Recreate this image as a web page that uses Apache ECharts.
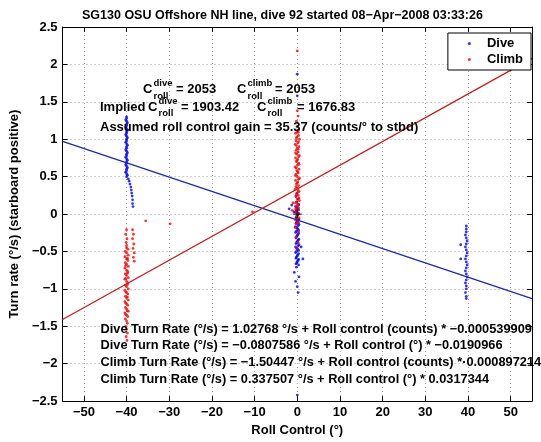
<!DOCTYPE html>
<html><head><meta charset="utf-8">
<script src="https://cdn.jsdelivr.net/npm/echarts@6/dist/echarts.min.js"></script>
<style>html,body{margin:0;padding:0;background:#fff}#c{width:541px;height:442px}</style>
</head><body><div id="c"></div><script>
const titleText = 'SG130 OSU Offshore NH line, dive 92 started 08\u2212Apr\u22122008 03:33:26';
const xName = 'Roll Control (\u00b0)';
const yName = 'Turn rate (\u00b0/s) (starboard positive)';
const xTicks = [-50, -40, -30, -20, -10, 0, 10, 20, 30, 40, 50];
const legendNames = ['Dive', 'Climb'];

// Dive samples [roll control (deg), turn rate (deg/s)]
const diveNeg40 = [[-40,1.30],[-40,1.28],[-40.2,1.26],[-40,1.24],[-39.8,1.22],[-40,1.20],[-40,1.18],[-40.2,1.16],[-40,1.14],[-39.8,1.12],[-40,1.10],[-40,1.08],[-40.2,1.06],[-40,1.04],[-39.8,1.02],[-40,1.00],[-40,0.98],[-40.2,0.96],[-40,0.94],[-39.8,0.92],[-40,0.90],[-40,0.88],[-40.2,0.86],[-40,0.84],[-39.8,0.82],[-40,0.80],[-40,0.78],[-40.2,0.76],[-40,0.74],[-39.8,0.72],[-40,0.70],[-40,0.68],[-40.2,0.66],[-40,0.64],[-39.8,0.62],[-40,0.60],[-40,0.58],[-40.2,0.56],[-40,0.54],[-39.8,0.52],[-40,0.50],
  [-39.6,0.47],[-39.4,0.44],[-39.2,0.40],[-39.0,0.36],[-38.9,0.32],[-38.8,0.28],[-38.7,0.24],[-38.6,0.19],[-38.6,0.14],[-38.5,0.10]];
const diveZero = [[0,1.87],[0,1.58],
  [0,0.28],[-0.3,0.24],[0.2,0.20],[-0.1,0.16],[0.3,0.13],[-0.4,0.10],[0.1,0.07],[-0.2,0.04],[0.3,0.01],[0,-0.02],[-0.3,-0.05],[0.2,-0.08],[-0.1,-0.11],[0.4,-0.14],[-0.4,-0.17],[0.1,-0.20],[-0.2,-0.23],[0.3,-0.26],[0,-0.29],[-0.3,-0.32],[0.2,-0.35],[-0.1,-0.38],[0.4,-0.41],[-0.4,-0.44],[0.1,-0.47],[-0.2,-0.50],[0.3,-0.53],[0,-0.56],[-0.3,-0.59],[0.2,-0.62],[-0.1,-0.65],[0.3,-0.68],[-0.2,-0.71],
  [0.2,0.115],[-0.1,0.085],[0.3,0.055],[-0.4,0.025],[0.1,-0.005],[-0.2,-0.035],[0.4,-0.065],[0,-0.095],[-0.3,-0.125],[0.2,-0.155],[-0.1,-0.185],[0.3,-0.215],[-0.4,-0.245],[0.1,-0.275],[-0.2,-0.305],[0.4,-0.335],[0,-0.365],[-0.3,-0.395],[0.2,-0.425],[-0.1,-0.455],[0.3,-0.485],[-0.4,-0.515],[0.1,-0.545],[-0.2,-0.575],[0.3,-0.605],[0,-0.635],[-0.3,-0.665],
  [-1.3,0.12],[-1.9,0.07],[-0.8,0.03],[0.9,-0.44],[1.3,-0.60],[-0.7,-0.78],[0.4,-0.84],[-0.4,-0.90],[0,-0.97],[0.2,-1.05],[0,-2.42]];
const divePos40 = [[39.6,-0.16],[39.6,-0.20],[39.6,-0.24],[39.4,-0.28],[39.6,-0.32],[39.8,-0.36],[39.6,-0.40],[39.4,-0.44],[39.6,-0.48],[39.8,-0.52],[39.6,-0.56],[39.4,-0.60],[39.6,-0.64],[39.8,-0.68],[39.6,-0.72],[39.4,-0.76],[39.6,-0.80],[39.8,-0.84],[39.6,-0.88],[39.4,-0.92],[39.6,-0.96],[39.6,-1.00],[39.4,-1.05],[39.6,-1.10],[39.6,-1.13],
  [38.3,-0.41],[38.3,-0.60]];

// Climb samples
const climbNeg40 = [[-40,-0.21],[-40.2,-0.27],[-39.9,-0.33],[-40.1,-0.38],[-40,-0.42],
  [-40,-0.45],[-39.7,-0.47],[-40.3,-0.50],[-40,-0.52],[-39.6,-0.55],[-40.4,-0.57],[-40,-0.60],[-39.7,-0.62],[-40.3,-0.65],[-40,-0.67],[-39.6,-0.70],[-40.4,-0.72],[-40,-0.75],[-39.7,-0.77],[-40.3,-0.80],[-40,-0.82],[-39.6,-0.85],[-40.4,-0.87],[-40,-0.90],[-39.7,-0.92],[-40.3,-0.95],[-40,-0.97],[-39.6,-1.00],[-40.4,-1.02],[-40,-1.05],[-39.7,-1.07],[-40.3,-1.10],[-40,-1.12],[-39.6,-1.15],[-40.4,-1.17],[-40,-1.20],[-39.7,-1.22],[-40.3,-1.25],[-40,-1.27],[-39.6,-1.30],[-40.4,-1.32],[-40,-1.35],[-39.7,-1.37],[-40.3,-1.40],[-40,-1.43],[-39.8,-1.46],[-40.2,-1.50],
  [-40.2,-0.86],[-39.8,-0.94],[-40.2,-1.04],[-39.8,-1.11],[-40.2,-1.19],[-39.8,-1.29],[-40.2,-1.34],[-39.8,-0.79],[-40.2,-0.69],[-39.8,-0.59],
  [-40,-1.54],[-39.8,-1.59],[-40.1,-1.64],[-39.9,-1.69],
  [-38.6,-0.21],[-38.4,-0.27],[-38.6,-0.33],[-38.3,-0.40],[-38.5,-0.46],[-38.2,-0.52],[-38.4,-0.58],[-38.2,-0.63]];
const climbOutliers = [[-35.5,-0.09],[-29.8,-0.13],[-10.5,0.03]];
const climbZero = [[0,2.18],[0,1.38],[0.2,1.31],[-0.2,1.24],[0,1.17],[0.3,1.12],
  [0,1.10],[-0.4,1.08],[0.3,1.05],[-0.1,1.03],[0.5,1.00],[-0.3,0.98],[0.1,0.95],[-0.5,0.93],[0.4,0.90],[0,0.88],[-0.3,0.85],[0.2,0.83],[-0.1,0.80],[0.5,0.78],[-0.4,0.75],[0.1,0.73],[-0.2,0.70],[0.3,0.68],[0,0.65],[-0.5,0.63],[0.4,0.60],[-0.1,0.58],[0.2,0.55],[-0.3,0.53],[0,0.50],[0.5,0.48],[-0.4,0.45],[0.1,0.43],[-0.2,0.40],[0.3,0.38],[0,0.35],[-0.5,0.33],[0.4,0.30],[-0.1,0.28],[0.2,0.25],[-0.3,0.23],[0,0.20],[0.5,0.18],[-0.4,0.15],[0.1,0.13],[-0.2,0.10],[0.3,0.08],[0,0.05],[-0.3,0.03],[0.2,0.00],[-0.1,-0.03],[0.4,-0.05],[-0.4,-0.08],[0.1,-0.10],[-0.2,-0.13],
  [0.2,1.09],[-0.2,1.015],[0.3,0.965],[-0.2,0.915],[0.2,0.865],[-0.4,0.815],[0.3,0.765],[-0.1,0.715],[0.4,0.665],[-0.3,0.615],[0.1,0.565],[-0.4,0.515],[0.3,0.465],[0,0.415],[-0.3,0.365],[0.2,0.315],[-0.2,0.265],[0.4,0.215],[-0.1,0.165],[0.2,0.115],[-0.4,0.065],[0.1,0.015],[-0.2,-0.065],[0.3,-0.115],
  [-1.0,0.15],[-1.2,0.05],
  [-0.5,-0.18],[0.3,-0.24],[-0.3,-0.31],[0.2,-0.38],[-0.2,-0.46]];

// fitted lines, endpoints read at the axis limits
const diveFit = [[-55, 0.97], [55, -1.13]];
const climbFit = [[-55, -1.41], [55, 2.08]];
const origin = [[0, 0]];

const annoLines = [
  'Dive Turn Rate (\u00b0/s) = 1.02768 \u00b0/s + Roll control (counts) * \u22120.000539909',
  'Dive Turn Rate (\u00b0/s) = \u22120.0807586 \u00b0/s + Roll control (\u00b0) * \u22120.0190966',
  'Climb Turn Rate (\u00b0/s) = \u22121.50447 \u00b0/s + Roll control (counts) *\u00b70.000897214',
  'Climb Turn Rate (\u00b0/s) = 0.337507 \u00b0/s + Roll control (\u00b0) * 0.0317344'
];
const gainText = 'Assumed roll control gain = 35.37 (counts/\u00b0 to stbd)';

const FF = '"Liberation Sans", Arial, Helvetica, sans-serif';
const F13 = 'bold 13px ' + FF;
const FB = 'bold 12.8px ' + FF;
const FS = 'bold 9.5px ' + FF;
function T(x, y, s, font) {
  return { type: 'text', x: x, y: y, z: 100, silent: true,
    style: { text: s, font: font || F13, fill: '#000', verticalAlign: 'middle', align: 'left' } };
}
const fmt = v => (v < 0 ? '\u2212' + Math.abs(v) : String(v));

const graphics = [
  T(143, 89, 'C'), T(153.5, 83, 'dive', FS), T(153.5, 96, 'roll', FS), T(176, 89, '= 2053'),
  T(237, 89, 'C'), T(247.5, 83, 'climb', FS), T(247.5, 96, 'roll', FS), T(275, 89, '= 2053'),
  T(100, 107, 'Implied'), T(148, 107, 'C'), T(158.5, 101, 'dive', FS), T(158.5, 113, 'roll', FS), T(181, 107, '= 1903.42'),
  T(257, 107, 'C'), T(267.5, 101, 'climb', FS), T(267.5, 113, 'roll', FS), T(297, 107, '= 1676.83'),
  T(100, 127, gainText)
];
annoLines.forEach((s, i) => graphics.push(T(100.5, [329, 345.5, 362, 379][i], s, FB)));

const chart = echarts.init(document.getElementById('c'));
const gridLine = { show: true, lineStyle: { color: '#a0a0a0', type: [1, 3], width: 1 } };
const labelStyle = { color: '#000', fontSize: 13, fontWeight: 'bold', fontFamily: FF };
chart.setOption({
  animation: false,
  backgroundColor: '#fff',
  title: { text: titleText, left: 82, top: 9, padding: 0,
    textStyle: { fontSize: 12.5, fontWeight: 'bold', color: '#000', fontFamily: FF } },
  legend: {
    data: legendNames, orient: 'vertical', right: 10, top: 33,
    backgroundColor: '#fff', borderColor: '#000', borderWidth: 1, borderRadius: 0,
    padding: [4, 8, 4, 20], itemGap: 3, itemWidth: 3, itemHeight: 3, icon: 'circle',
    textStyle: { fontSize: 13, fontWeight: 'bold', color: '#000', fontFamily: FF, padding: [0, 0, 0, 11] },
    z: 50
  },
  grid: { left: 53, right: 9, top: 27, bottom: 36, containLabel: false },
  xAxis: [
    { type: 'value', min: -55, max: 55, position: 'bottom',
      name: xName, nameLocation: 'middle', nameGap: 20,
      nameTextStyle: labelStyle,
      axisLine: { show: true, onZero: false, lineStyle: { color: '#000', width: 1 } },
      axisTick: { show: true, inside: true, length: 5, customValues: xTicks, lineStyle: { color: '#000' } },
      axisLabel: { show: true, customValues: xTicks, formatter: fmt, margin: 5, ...labelStyle },
      splitLine: gridLine },
    { type: 'value', min: -55, max: 55, position: 'top',
      axisLine: { show: true, onZero: false, lineStyle: { color: '#000', width: 1 } },
      axisTick: { show: true, inside: true, length: 5, customValues: xTicks, lineStyle: { color: '#000' } },
      axisLabel: { show: false }, splitLine: { show: false } }
  ],
  yAxis: [
    { type: 'value', min: -2.5, max: 2.5, interval: 0.5, position: 'left',
      name: yName, nameLocation: 'middle', nameGap: 37, nameRotate: 90,
      nameTextStyle: labelStyle,
      axisLine: { show: true, onZero: false, lineStyle: { color: '#000', width: 1 } },
      axisTick: { show: true, inside: true, length: 5, lineStyle: { color: '#000' } },
      axisLabel: { show: true, formatter: fmt, margin: 5, ...labelStyle },
      splitLine: gridLine },
    { type: 'value', min: -2.5, max: 2.5, interval: 0.5, position: 'right',
      axisLine: { show: true, onZero: false, lineStyle: { color: '#000', width: 1 } },
      axisTick: { show: true, inside: true, length: 5, lineStyle: { color: '#000' } },
      axisLabel: { show: false }, splitLine: { show: false } }
  ],
  series: [
    { name: 'Dive', type: 'scatter', data: diveNeg40.concat(diveZero, divePos40),
      symbol: 'circle', symbolSize: 2.8, itemStyle: { color: '#0000ff' }, z: 2 },
    { name: 'Climb', type: 'scatter', data: climbNeg40.concat(climbZero, climbOutliers),
      symbol: 'circle', symbolSize: 2.8, itemStyle: { color: '#ff0000' }, z: 3 },
    { name: 'Dive fit', type: 'line', data: diveFit, showSymbol: false, silent: true,
      lineStyle: { color: '#1c2aa4', width: 1.3 }, z: 4 },
    { name: 'Climb fit', type: 'line', data: climbFit, showSymbol: false, silent: true,
      lineStyle: { color: '#c0201f', width: 1.3 }, z: 4 },
    { name: 'origin', type: 'scatter', data: origin, symbol: 'path://M0,5L10,5M5,0L5,10',
      symbolSize: 9, itemStyle: { color: 'none', borderColor: '#000', borderWidth: 1.2 }, z: 5, silent: true }
  ],
  graphic: graphics
});
</script></body></html>
